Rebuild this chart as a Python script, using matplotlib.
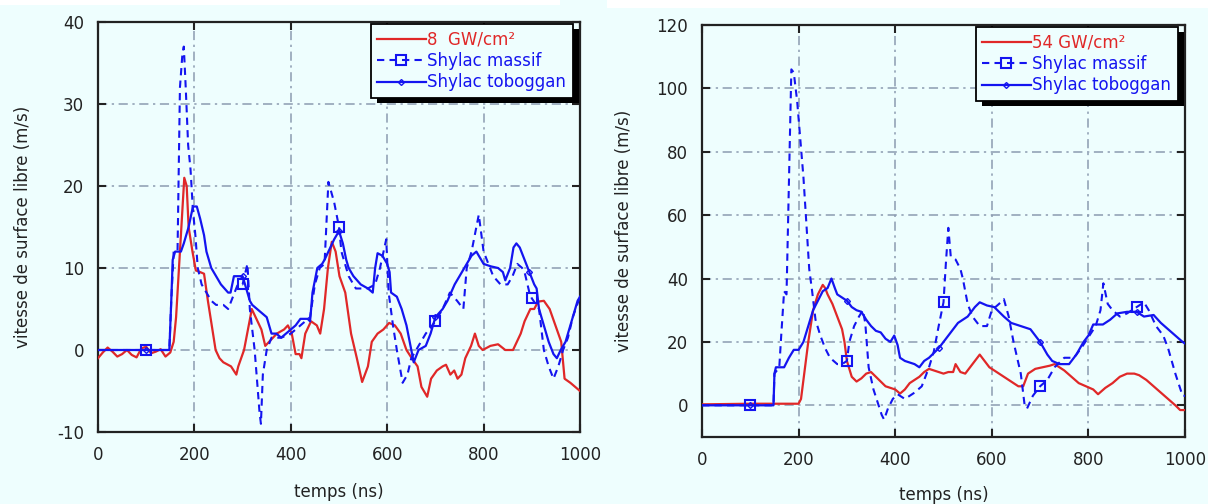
import numpy as np
import matplotlib
matplotlib.use("Agg")
import matplotlib.pyplot as plt
from matplotlib.patches import Rectangle
from matplotlib.transforms import IdentityTransform

# ---------------- data ----------------
# Left panel: 8 GW/cm²
L_red_t = [0,10,20,30,40,50,60,70,80,90,100,110,120,130,140,150,157,162,166,173,179,184,188,196,203,212,220,228,236,244,252,260,276,287,291,303,315,319,327,339,347,355,371,386,394,402,410,418,422,430,442,454,461,469,477,485,493,501,513,525,537,548,560,568,580,592,604,616,628,640,651,663,671,683,691,703,715,722,731,739,746,754,762,774,782,790,798,814,830,845,861,869,877,885,897,905,913,925,937,949,961,968,980,990,1000]
L_red_v = [-1,-0.3,0.3,-0.2,-0.8,-0.5,0,-0.6,-0.9,0.2,0.4,-0.4,-0.2,0.1,-0.8,-0.3,1,4,8,15,21,20,15,12,9.7,9.5,9.3,6,3,0,-1,-1.5,-2,-3,-2,0,3.7,5,4,2.5,0.5,1,2,2.5,3,2,-0.5,-0.5,-1,2,3.5,3,2,5,10,13.2,12,9,7,2,-1,-3.9,-2,1,2,2.5,3.3,3,2,0,-1,-2,-4.5,-5.7,-3.5,-2.5,-2,-1.8,-3,-2.5,-3.5,-3,-1,0.5,2,0.5,0,0.5,0.7,0,0,1,2,3.5,5,5,5.9,6,5,3,1,-3.5,-4,-4.5,-5]

L_mas_t = [0,100,148,152,157,165,170,175,178,182,187,192,197,202,207,215,225,235,245,260,270,280,290,300,310,315,325,335,338,342,350,360,380,400,420,440,450,460,470,478,490,500,505,520,535,560,575,585,598,603,612,620,632,642,650,660,670,680,700,715,730,745,758,765,775,790,800,810,820,835,850,860,870,880,885,895,900,915,925,935,945,955,965,975,985,1000]
L_mas_v = [0,0,0,6,12,12,32,36,37,32,25,22,17,14,10,8,7,6,5.5,5.5,5,6.5,8,8,10.5,5,0,-7.5,-9,-3,0,1.5,1.5,2,3,4,8,10,10.5,20.5,18,15,12,9,7.5,7.5,8,10,13.5,7,3,0,-4,-3,-1,0,1,2,3.5,5,7,6,5,10,12,16.5,12,10.5,9,8,8,9,10.5,10,9.5,7,6.3,5,0,-2,-3.5,-2,0,1.5,4,6.5]

L_tob_t = [0,100,148,152,155,160,172,178,188,197,205,212,220,225,235,245,255,270,275,282,300,305,315,320,330,340,350,360,370,380,390,400,410,420,435,440,445,455,465,470,478,490,500,508,515,520,530,545,560,570,575,580,590,600,605,608,620,630,640,650,655,665,680,690,700,715,725,740,750,760,775,785,800,815,830,840,845,855,862,868,875,885,895,905,910,915,925,935,945,952,960,970,975,985,995,1000]
L_tob_v = [0,0,0,6,11,12,12,13,15,17.5,17.5,16,14,12,10,9,8,7,7,9,9,8,6,5.5,5,4.5,4,2,2,1.5,2,2.5,3,3.8,3.8,3.5,7,10,10.5,11,12,13.5,14.5,13,11,10,9,8,7.5,7,10,11.8,11.5,10.5,9.5,7,6.5,5,3,0,-1.5,0,0.5,2,4,5,6,8,9,10,11.5,12,10.5,10.2,10,9.5,8.5,10,12.5,13,12.5,11,9.5,8,7.5,5,3,1,-0.5,-1,0,1,2,4,6,6.5]

# Right panel: 54 GW/cm²
R_red_t = [0,100,200,205,210,220,230,240,250,255,260,270,280,290,295,300,310,320,330,340,350,360,370,380,390,400,410,420,430,440,450,460,470,480,490,500,510,520,525,535,545,555,565,575,585,595,610,625,640,655,665,675,690,705,720,730,740,750,765,780,795,810,820,835,850,865,880,895,905,920,935,950,965,980,990,1000]
R_red_v = [0.3,0.5,0.5,2,8,20,30,35,38,37,35,32,28,24,20,14,9,7.5,8.5,10,10.5,9,7.5,6,5.5,5,3.7,5,7,8,9,10.5,11.5,11,10.5,10,10.5,10.5,13,10.5,10,12,14,16,14,12,10.5,9,7.5,6,6,10,11.5,12,12.5,13,12,11,9,7,6,5,3.5,5.5,7,9,10,10,9.5,8,6,4,2,0,-1.5,-1.5]

R_mas_t = [0,100,148,150,160,164,170,175,185,190,197,210,215,222,228,235,245,255,265,280,290,300,305,315,325,333,338,345,355,372,377,385,395,405,420,440,455,470,480,490,500,505,510,515,525,535,540,550,560,575,590,600,615,625,635,645,660,668,673,685,700,715,730,750,770,785,815,825,831,840,850,865,880,900,915,925,940,955,965,980,995,1000]
R_mas_v = [0,0,0,10,12,22,36,35,106,105,96,72,60,43,36,27,22,18,15,13,13,14,20,25,28,30,26,12,5,-3,-4.5,-1,2,3.5,2,4,6,12,17,25,32.5,45,56,47,46,43,40,32,28,25,25,30,32,33.5,28,20,10,0,-1,3,6,8,12,15,15,18,25,30,38.5,32,30,28,29,31,32.5,30,25,22,18,10,3,3]

R_tob_t = [0,100,148,150,153,170,180,190,200,210,220,230,240,250,260,268,275,280,290,300,310,320,330,340,350,360,370,380,390,398,405,410,420,440,450,460,470,490,510,530,550,565,575,590,605,625,640,660,680,690,700,715,725,740,760,775,790,800,810,830,845,860,880,900,915,935,950,965,980,995,1000]
R_tob_v = [0,0,0,10,12,12,15,17.5,17.5,20,25,30,33,36,37,40,37,35,34,33,31,30,29.5,27,25,23.5,23,21,20,22,19,15,14,13,12,14,15,18,22,26,28,31,32.5,31.5,31,28,26,25,24,22,20,16,14,13,13,16,20,22,25.5,25.5,27,29,29.5,29.5,28,28.5,26,24,22,20,19.5]

marker_times = [100, 300, 500, 700, 900]
labels_left = ["8  GW/cm²", "Shylac massif", "Shylac toboggan"]
labels_right = ["54 GW/cm²", "Shylac massif", "Shylac toboggan"]
xlabel = "temps (ns)"
ylabel = "vitesse de surface libre (m/s)"

# ---------------- style ----------------
BG = "#eefefe"
RED = "#e02828"
BLUE = "#1414f0"
GRID = "#8c9bb0"
INK = "#222222"
plt.rcParams['font.family'] = ['DejaVu Sans']
plt.rcParams['axes.unicode_minus'] = False

fig = plt.figure(figsize=(12.08, 5.04), dpi=100, facecolor=BG)
fig.patches.append(Rectangle((0, 1 - 5/504), 560/1208, 5/504, transform=fig.transFigure,
                             facecolor="white", edgecolor="none", zorder=0))
fig.patches.append(Rectangle((607/1208, 1 - 8/504), 601/1208, 8/504, transform=fig.transFigure,
                             facecolor="white", edgecolor="none", zorder=0))

axL = fig.add_axes([98/1208, 1 - 432/504, 482/1208, 410/504])
axR = fig.add_axes([702/1208, 1 - 437/504, 483/1208, 412/504])


def mark_idx(t):
    t = np.asarray(t)
    return [int(np.argmin(np.abs(t - m))) for m in marker_times]


def panel(ax, red, mas, tob, labels, ylim, yticks, leg_anchor, xpad, ypad):
    ax.set_facecolor(BG)
    ax.plot(red[0], red[1], color=RED, lw=1.6, label=labels[0], zorder=3)
    ax.plot(mas[0], mas[1], color=BLUE, lw=1.5, ls=(0, (3.5, 2.5)), marker='s', ms=7,
            mfc='none', mec=BLUE, mew=1.5, markevery=mark_idx(mas[0]),
            label=labels[1], zorder=4)
    ax.plot(tob[0], tob[1], color=BLUE, lw=1.6, marker='D', ms=3,
            mfc='none', mec=BLUE, mew=1.0, markevery=mark_idx(tob[0]),
            label=labels[2], zorder=4)
    ax.set_xlim(0, 1000)
    ax.set_ylim(*ylim)
    ax.set_xticks([0, 200, 400, 600, 800, 1000])
    ax.set_yticks(yticks)
    ax.grid(True, color=GRID, ls=(0, (6, 3, 1.5, 3)), lw=1.1)
    ax.tick_params(direction='in', length=6, width=1.5, top=True, right=True,
                   labelsize=12, pad=10, colors=INK)
    for s in ax.spines.values():
        s.set_linewidth(1.6)
        s.set_color(INK)
    ax.set_xlabel(xlabel, fontsize=12, labelpad=xpad, color=INK)
    ax.set_ylabel(ylabel, fontsize=12, labelpad=ypad, color=INK)
    leg = ax.legend(loc='upper right', bbox_to_anchor=leg_anchor, fontsize=12,
                    handlelength=2.9, handletextpad=0.1, borderpad=0.4,
                    borderaxespad=0, labelspacing=0.2, fancybox=False, framealpha=1,
                    facecolor=BG, edgecolor='black', labelcolor='linecolor')
    leg.get_frame().set_linewidth(1.3)
    leg.set_zorder(10)
    return leg


legL = panel(axL, (L_red_t, L_red_v), (L_mas_t, L_mas_v), (L_tob_t, L_tob_v), labels_left,
             (-10, 40), [-10, 0, 10, 20, 30, 40], (0.985, 0.995), 14, 18)
legR = panel(axR, (R_red_t, R_red_v), (R_mas_t, R_mas_v), (R_tob_t, R_tob_v), labels_right,
             (-10, 120), [0, 20, 40, 60, 80, 100, 120], (0.985, 0.995), 12, 17)

# heavy black drop shadow behind each legend box
fig.canvas.draw()
for ax, leg in ((axL, legL), (axR, legR)):
    bb = leg.get_window_extent()
    sh = Rectangle((bb.x0 + 6, bb.y0 - 5), bb.width, bb.height, transform=IdentityTransform(),
                   facecolor='black', edgecolor='none', zorder=9, clip_on=False)
    ax.add_artist(sh)

fig.savefig("out.png", dpi=100, facecolor=fig.get_facecolor())
